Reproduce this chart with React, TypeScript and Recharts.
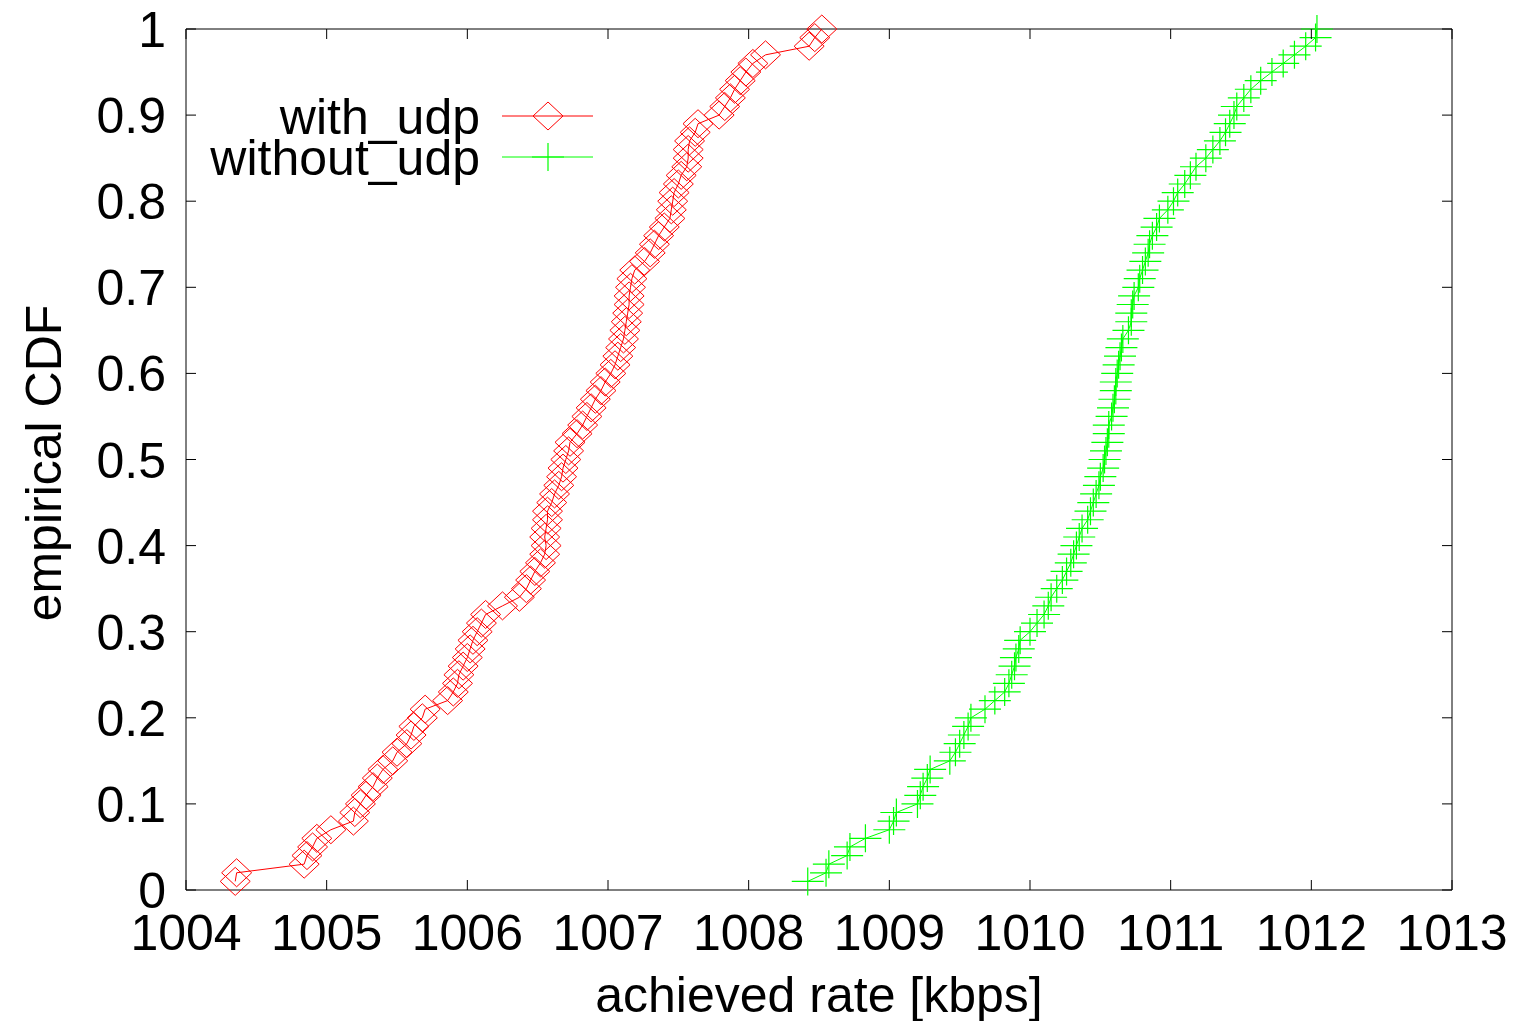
import React from 'react';
import { LineChart, Line, XAxis, YAxis } from 'recharts';

// empirical CDF levels (same for both runs, 100 samples each)
const cdfLevels = [
  0.01, 0.02, 0.03, 0.04, 0.05, 0.06, 0.07, 0.08, 0.09, 0.1,
  0.11, 0.12, 0.13, 0.14, 0.15, 0.16, 0.17, 0.18, 0.19, 0.2,
  0.21, 0.22, 0.23, 0.24, 0.25, 0.26, 0.27, 0.28, 0.29, 0.3,
  0.31, 0.32, 0.33, 0.34, 0.35, 0.36, 0.37, 0.38, 0.39, 0.4,
  0.41, 0.42, 0.43, 0.44, 0.45, 0.46, 0.47, 0.48, 0.49, 0.5,
  0.51, 0.52, 0.53, 0.54, 0.55, 0.56, 0.57, 0.58, 0.59, 0.6,
  0.61, 0.62, 0.63, 0.64, 0.65, 0.66, 0.67, 0.68, 0.69, 0.7,
  0.71, 0.72, 0.73, 0.74, 0.75, 0.76, 0.77, 0.78, 0.79, 0.8,
  0.81, 0.82, 0.83, 0.84, 0.85, 0.86, 0.87, 0.88, 0.89, 0.9,
  0.91, 0.92, 0.93, 0.94, 0.95, 0.96, 0.97, 0.98, 0.99, 1.0,
];

// achieved rate [kbps]
const rateWithUdp = [
  1004.35, 1004.36, 1004.84, 1004.86, 1004.9, 1004.93, 1005.03, 1005.19, 1005.2, 1005.24,
  1005.28, 1005.33, 1005.36, 1005.4, 1005.47, 1005.5, 1005.57, 1005.6, 1005.62, 1005.68,
  1005.7, 1005.86, 1005.9, 1005.93, 1005.94, 1005.97, 1006.0, 1006.02, 1006.04, 1006.07,
  1006.1, 1006.13, 1006.25, 1006.37, 1006.42, 1006.45, 1006.48, 1006.52, 1006.55, 1006.56,
  1006.55, 1006.56, 1006.57, 1006.57, 1006.6, 1006.62, 1006.65, 1006.67, 1006.68, 1006.7,
  1006.72, 1006.73, 1006.78, 1006.82, 1006.85, 1006.88, 1006.91, 1006.95, 1006.98, 1007.02,
  1007.05, 1007.07, 1007.09, 1007.11, 1007.12, 1007.13, 1007.14, 1007.15, 1007.15, 1007.16,
  1007.17, 1007.19, 1007.26, 1007.3, 1007.33, 1007.36, 1007.4, 1007.44, 1007.45, 1007.46,
  1007.47, 1007.5, 1007.52, 1007.56, 1007.57, 1007.57, 1007.58, 1007.62, 1007.64, 1007.79,
  1007.83, 1007.87, 1007.9, 1007.94, 1007.98, 1008.03, 1008.12, 1008.43, 1008.47, 1008.52,
];

const rateWithoutUdp = [
  1008.42, 1008.55, 1008.57, 1008.7, 1008.72, 1008.83, 1009.0, 1009.03, 1009.05, 1009.2,
  1009.22, 1009.24, 1009.27, 1009.29, 1009.43, 1009.47, 1009.5, 1009.53, 1009.56, 1009.58,
  1009.68, 1009.75, 1009.82, 1009.85, 1009.87, 1009.89, 1009.9, 1009.92, 1009.93, 1010.0,
  1010.05, 1010.1, 1010.13, 1010.15, 1010.19, 1010.23, 1010.26, 1010.29, 1010.31, 1010.33,
  1010.35, 1010.37, 1010.41, 1010.43, 1010.45, 1010.47, 1010.49, 1010.5, 1010.52, 1010.53,
  1010.54, 1010.55, 1010.56, 1010.56, 1010.58, 1010.59, 1010.6, 1010.61, 1010.61, 1010.62,
  1010.63, 1010.64, 1010.65, 1010.66, 1010.7, 1010.72, 1010.72, 1010.73, 1010.74, 1010.77,
  1010.78, 1010.8, 1010.82, 1010.84, 1010.85, 1010.87, 1010.9, 1010.92, 1010.98, 1011.02,
  1011.05, 1011.1, 1011.14, 1011.18, 1011.25, 1011.3, 1011.35, 1011.39, 1011.42, 1011.45,
  1011.47, 1011.52, 1011.57, 1011.64, 1011.72, 1011.8, 1011.88, 1011.96, 1012.03, 1012.04,
];

const xTicks = [1004, 1005, 1006, 1007, 1008, 1009, 1010, 1011, 1012, 1013];
const yTicks = [0, 0.1, 0.2, 0.3, 0.4, 0.5, 0.6, 0.7, 0.8, 0.9, 1];

const FONT = '"Liberation Sans", Arial, Helvetica, sans-serif';
const FONT_SIZE = 50;
const TICK_LEN = 10;
const BORDER = '#000';

const toPoints = (rates: number[]) =>
  rates.map((rate, i) => ({ rate, cdf: cdfLevels[i] }));

const withUdp = toPoints(rateWithUdp);
const withoutUdp = toPoints(rateWithoutUdp);

const Diamond = ({ cx, cy }: any) => {
  if (cx == null || cy == null) return null;
  return (
    <path
      d={`M${cx - 15},${cy}L${cx},${cy - 14}L${cx + 15},${cy}L${cx},${cy + 14}Z`}
      fill="none"
      stroke="#ff0000"
      strokeWidth={1}
    />
  );
};

const Plus = ({ cx, cy }: any) => {
  if (cx == null || cy == null) return null;
  return (
    <path
      d={`M${cx - 16},${cy}H${cx + 16}M${cx},${cy - 14}V${cy + 14}`}
      fill="none"
      stroke="#00ff00"
      strokeWidth={1.2}
    />
  );
};

const series = [
  { name: 'with_udp', data: withUdp, color: '#ff0000', Marker: Diamond },
  { name: 'without_udp', data: withoutUdp, color: '#00ff00', Marker: Plus },
];

const fmtY = (v: number) => (v === 0 || v === 1 ? String(v) : v.toFixed(1));

const LeftTick = ({ x, y, payload }: any) => (
  <g>
    <line x1={x} x2={x + TICK_LEN} y1={y} y2={y} stroke={BORDER} />
    <text x={x - 20} y={y} dy="0.36em" textAnchor="end" fontSize={FONT_SIZE} fontFamily={FONT} fill="#000">
      {fmtY(payload.value)}
    </text>
  </g>
);

const RightTick = ({ x, y }: any) => (
  <line x1={x} x2={x - TICK_LEN} y1={y} y2={y} stroke={BORDER} />
);

const BottomTick = ({ x, y, payload }: any) => (
  <g>
    <line x1={x} x2={x} y1={y} y2={y - TICK_LEN} stroke={BORDER} />
    <text x={x} y={y + 60} textAnchor="middle" fontSize={FONT_SIZE} fontFamily={FONT} fill="#000">
      {payload.value}
    </text>
  </g>
);

const TopTick = ({ x, y }: any) => (
  <line x1={x} x2={x} y1={y} y2={y + TICK_LEN} stroke={BORDER} />
);

// gnuplot-style key, drawn over the plot area's top-left corner
const KeyBox = () => (
  <svg width={700} height={200} style={{ position: 'absolute', left: 0, top: 0, pointerEvents: 'none' }}>
    {series.map((s, i) => {
      const ly = 116 + i * 41;
      const { Marker } = s;
      return (
        <g key={s.name}>
          <text x={480} y={ly} dy="0.36em" textAnchor="end" fontSize={FONT_SIZE} fontFamily={FONT} fill="#000">
            {s.name}
          </text>
          <line x1={502} x2={593} y1={ly} y2={ly} stroke={s.color} strokeWidth={1} />
          <Marker cx={548} cy={ly} />
        </g>
      );
    })}
  </svg>
);

const YLabel = () => (
  <text
    transform="translate(43,463) rotate(-90)"
    dy="0.36em"
    textAnchor="middle"
    fontSize={FONT_SIZE}
    fontFamily={FONT}
    fill="#000"
  >
    empirical CDF
  </text>
);

export default function App() {
  return (
    <div style={{ position: 'absolute', left: 0, top: 0, width: 1526, height: 1021, background: '#fff' }}>
      <LineChart width={1526} height={1021} margin={{ top: 28, right: 73, bottom: 0, left: 0 }}>
        <XAxis
          xAxisId="bottom"
          dataKey="rate"
          type="number"
          domain={[1004, 1013]}
          ticks={xTicks}
          interval={0}
          height={131}
          tickSize={0}
          tickMargin={0}
          tickLine={false}
          tick={<BottomTick />}
          stroke={BORDER}
          label={{
            value: 'achieved rate [kbps]',
            position: 'insideBottom',
            offset: 9,
            fontSize: FONT_SIZE,
            fontFamily: FONT,
            fill: '#000',
          }}
        />
        <XAxis
          xAxisId="top"
          orientation="top"
          dataKey="rate"
          type="number"
          domain={[1004, 1013]}
          ticks={xTicks}
          interval={0}
          height={1}
          tickSize={0}
          tickMargin={0}
          tickLine={false}
          tick={<TopTick />}
          stroke={BORDER}
        />
        <YAxis
          yAxisId="left"
          dataKey="cdf"
          type="number"
          domain={[0, 1]}
          ticks={yTicks}
          interval={0}
          width={186}
          tickSize={0}
          tickMargin={0}
          tickLine={false}
          tick={<LeftTick />}
          stroke={BORDER}
          label={{ content: () => <YLabel /> }}
        />
        <YAxis
          yAxisId="right"
          orientation="right"
          dataKey="cdf"
          type="number"
          domain={[0, 1]}
          ticks={yTicks}
          interval={0}
          width={1}
          tickSize={0}
          tickMargin={0}
          tickLine={false}
          tick={<RightTick />}
          stroke={BORDER}
        />
        {/* invisible series so the mirrored top/right border axes get drawn */}
        <Line
          xAxisId="top"
          yAxisId="right"
          data={withUdp}
          dataKey="cdf"
          stroke="none"
          dot={false}
          activeDot={false}
          legendType="none"
          isAnimationActive={false}
        />
        {series.map((s) => (
          <Line
            key={s.name}
            xAxisId="bottom"
            yAxisId="left"
            data={s.data}
            dataKey="cdf"
            name={s.name}
            type="linear"
            stroke={s.color}
            strokeWidth={1}
            dot={<s.Marker />}
            activeDot={false}
            isAnimationActive={false}
          />
        ))}
      </LineChart>
      <KeyBox />
    </div>
  );
}
